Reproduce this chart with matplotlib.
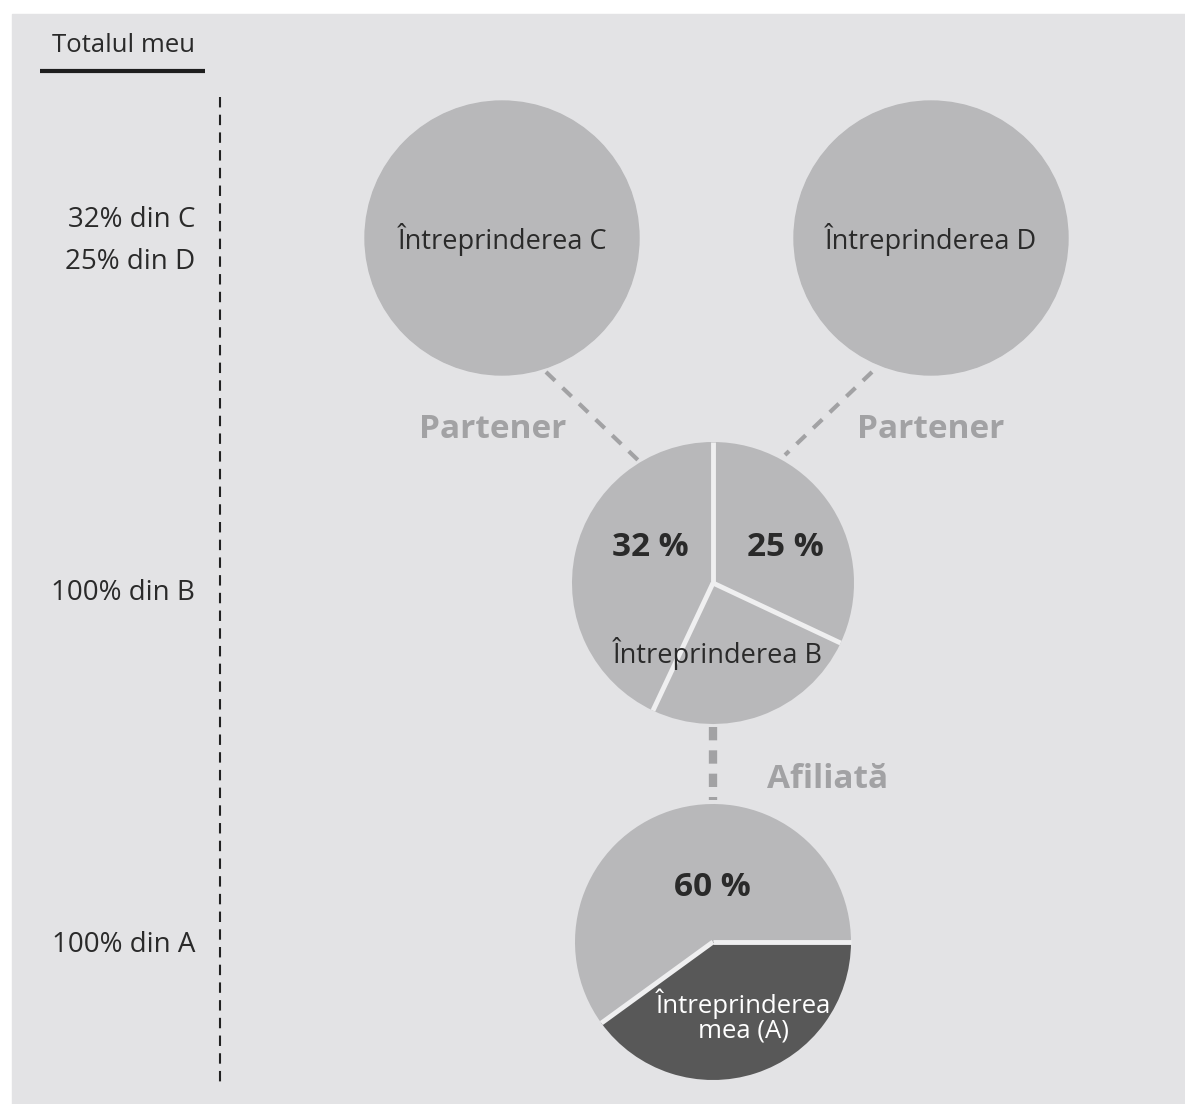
import numpy as np
import matplotlib as mpl
import matplotlib.pyplot as plt
from matplotlib.patches import Circle, Rectangle

W, H = 1185, 1104

# data
row_labels = ["32% din C", "25% din D", "100% din B", "100% din A"]
company_c = "Întreprinderea C"
company_d = "Întreprinderea D"
pie_b_sizes = [32, 25, 43]          # clockwise from 12 o'clock: right, bottom, left
pie_b_labels = ["32 %", "25 %"]
pie_a_sizes = [40, 60]              # clockwise from 3 o'clock: my company, rest
pie_a_labels = ["60 %", "Întreprinderea\nmea (A)"]
link_labels = ["Partener", "Partener", "Afiliată"]

BG = "#e3e3e5"
GREY = "#b8b8ba"
DARK = "#585858"
SOFT = "#a2a2a4"
TXT = "#2a2a2a"
SEP = "#efeff0"

mpl.rcParams["font.family"] = ["Open Sans", "DejaVu Sans"]


def Y(y):
    # pixel row (from top) -> data y (from bottom)
    return H - y


def separators(ax, wedges, center, radius):
    # white spokes between slices, no outline round the pie
    for w in wedges:
        a = np.deg2rad(w.theta1)
        ax.plot([center[0], center[0] + radius * np.cos(a)],
                [center[1], center[1] + radius * np.sin(a)],
                color=SEP, lw=3.5, solid_capstyle="butt", zorder=3)


fig = plt.figure(figsize=(W / 100, H / 100), dpi=100)
fig.patch.set_facecolor("white")
ax = fig.add_axes([0, 0, 1, 1])
ax.set_xlim(0, W)
ax.set_ylim(0, H)
ax.set_aspect("equal")
ax.axis("off")

# scanned page background with a thin white margin on top and left
ax.add_patch(Rectangle((12, 0), W - 12, Y(14), color=BG, zorder=0))

# header
ax.text(52, Y(45), "Totalul meu", fontsize=18.5, color=TXT, ha="left", va="center")
ax.plot([40, 205], [Y(71), Y(71)], color="#1e1e1e", lw=3, solid_capstyle="butt")

# left dashed rule and row labels
ax.plot([220, 220], [Y(97), Y(1082)], color="#222222", lw=1.5, dashes=(5, 3.5))
for lab, yy in zip(row_labels, [220, 262, 593, 945]):
    ax.text(195, Y(yy), lab, fontsize=20, color=TXT, ha="right", va="center")

# partner companies C and D
for name, cx in [(company_c, 502), (company_d, 931)]:
    ax.add_patch(Circle((cx, Y(238)), 137, color=GREY, zorder=1))
    ax.text(cx, Y(240), name, fontsize=19.5, color=TXT, ha="center", va="center", zorder=3)

# dashed connectors
ax.plot([546, 640], [Y(372), Y(462)], color=SOFT, lw=3, dashes=(3, 2.5), zorder=1)
ax.plot([872, 785], [Y(372), Y(455)], color=SOFT, lw=3, dashes=(3, 2.5), zorder=1)
ax.plot([713, 713], [Y(727), Y(800)], color=SOFT, lw=6, dashes=(1.6, 1.2), zorder=1)

for lab, (x, y) in zip(link_labels, [(493, 430), (931, 430), (828, 780)]):
    ax.text(x, Y(y), lab, fontsize=24, fontweight="bold", color=SOFT,
            ha="center", va="center")

# pie for company B
cb = (713, Y(583))
wb, _ = ax.pie(pie_b_sizes, center=cb, radius=141, startangle=90,
               counterclock=False, colors=[GREY] * 3,
               wedgeprops=dict(linewidth=0), frame=True)
separators(ax, wb, cb, 141)
for lab, x in zip(pie_b_labels, [650, 785]):
    ax.text(x, Y(548), lab, fontsize=24, fontweight="bold", color=TXT,
            ha="center", va="center", zorder=5)
ax.text(718, Y(653), "Întreprinderea B", fontsize=19.5, color=TXT,
        ha="center", va="center", zorder=5)

# pie for my company A
ca = (713, Y(942))
wa, _ = ax.pie(pie_a_sizes, center=ca, radius=138, startangle=0,
               counterclock=False, colors=[DARK, GREY],
               wedgeprops=dict(linewidth=0), frame=True)
separators(ax, wa, ca, 138)
ax.text(712, Y(887), pie_a_labels[0], fontsize=24, fontweight="bold", color=TXT,
        ha="center", va="center", zorder=5)
ax.text(743, Y(1016), pie_a_labels[1], fontsize=18.5, color="white",
        ha="center", va="center", linespacing=0.95, zorder=5)

ax.set_xlim(0, W)
ax.set_ylim(0, H)
ax.axis("off")

fig.savefig("out.png", dpi=100, facecolor=fig.get_facecolor())
